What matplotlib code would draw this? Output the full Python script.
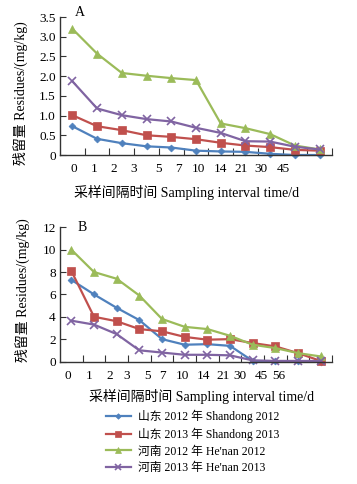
import matplotlib
matplotlib.use("Agg")
import matplotlib.pyplot as plt
import numpy as np

plt.rcParams['font.family'] = ['Liberation Serif', 'Noto Sans CJK SC']
plt.rcParams['axes.unicode_minus'] = False

# ---- data ----
labels_a = ["0", "1", "2", "3", "5", "7", "10", "14", "21", "30", "45"]
labels_b = ["0", "1", "2", "3", "5", "7", "10", "14", "21", "30", "45", "56"]

series_names = ["山东 2012 年 Shandong 2012", "山东 2013 年 Shandong 2013",
                "河南 2012 年 He'nan 2012", "河南 2013 年 He'nan 2013"]

a_sd2012 = [0.73, 0.41, 0.30, 0.22, 0.19, 0.11, 0.09, 0.08, 0.03, 0.0, 0.0]
a_sd2013 = [1.01, 0.73, 0.63, 0.50, 0.46, 0.40, 0.31, 0.24, 0.20, 0.13, 0.11]
a_hn2012 = [3.20, 2.57, 2.08, 2.01, 1.95, 1.90, 0.80, 0.68, 0.53, 0.24, 0.14]
a_hn2013 = [1.87, 1.18, 1.01, 0.91, 0.85, 0.69, 0.56, 0.35, 0.34, 0.21, 0.14]

b_sd2012 = [7.3, 6.0, 4.8, 3.7, 2.0, 1.5, 1.55, 1.4, 0.05, 0.03, 0.03, 0.0]
b_sd2013 = [8.1, 4.0, 3.6, 2.9, 2.7, 2.2, 1.95, 2.0, 1.65, 1.35, 0.75, 0.05]
b_hn2012 = [10.0, 8.0, 7.4, 5.9, 3.8, 3.1, 2.9, 2.3, 1.5, 1.2, 0.75, 0.45]
b_hn2013 = [3.65, 3.3, 2.45, 1.0, 0.8, 0.6, 0.6, 0.55, 0.1, 0.05, 0.05, 0.05]

colors = ["#4F81BD", "#C0504D", "#9BBB59", "#8064A2"]
markers = ["D", "s", "^", "x"]
msizes = [3.5, 6, 5.5, 5.5]

# label offsets (as drawn in the original, slightly misaligned with points)
tickpos_a = [0.06, 0.87, 1.68, 2.49, 3.47, 4.28, 5.09, 5.97, 6.83, 7.64, 8.53]
tickpos_b = [-0.15, 0.78, 1.71, 2.46, 3.34, 4.0, 4.92, 5.81, 6.69, 7.44, 8.37, 9.16]

W, H = 357, 484
fig = plt.figure(figsize=(W / 100, H / 100), dpi=100)
fig.patch.set_facecolor("white")

ylab = "残留量 Residues/(mg/kg)"
xlab = "采样间隔时间 Sampling interval time/d"


def style_axes(ax, n, tickpos, labels):
    for s in ["top", "right"]:
        ax.spines[s].set_visible(False)
    for s in ["left", "bottom"]:
        ax.spines[s].set_color("#333333")
        ax.spines[s].set_linewidth(1.0)
    ax.set_xlim(-0.5, n - 0.5)
    ax.set_xticks(tickpos)
    ax.set_xticklabels(labels, fontsize=9.5)
    ax.tick_params(axis="x", which="major", length=0, pad=6)
    ax.set_xticks(np.arange(n) + 0.5, minor=True)
    ax.tick_params(axis="x", which="minor", direction="in", length=5, width=0.8, color="#333333")
    ax.tick_params(axis="y", direction="in", length=4, width=0.8, color="#333333", labelsize=9.5, pad=3)


def plot_series(ax, data):
    x = np.arange(len(data[0]))
    for d, c, m, ms in zip(data, colors, markers, msizes):
        ax.plot(x, d, color=c, marker=m, markersize=ms, linewidth=1.6,
                markeredgewidth=1.2 if m == "x" else 0.5, markeredgecolor=c, clip_on=False)


# ---- Chart A ----
axA = fig.add_axes([60 / W, (H - 155) / H, 272 / W, 138 / H])
plot_series(axA, [a_sd2012, a_sd2013, a_hn2012, a_hn2013])
axA.set_ylim(0, 3.5)
axA.set_yticks(np.arange(0, 3.51, 0.5))
axA.set_yticklabels(["0", "0.5", "1.0", "1.5", "2.0", "2.5", "3.0", "3.5"])
style_axes(axA, len(labels_a), tickpos_a, labels_a)
axA.text(0.074, 1.035, "A", transform=axA.transAxes, fontsize=10, ha="center", va="center")

# ---- Chart B ----
axB = fig.add_axes([60 / W, (H - 361.5) / H, 272 / W, 134.2 / H])
plot_series(axB, [b_sd2012, b_sd2013, b_hn2012, b_hn2013])
axB.set_ylim(0, 12)
axB.set_yticks(np.arange(0, 12.1, 2))
style_axes(axB, len(labels_b), tickpos_b, labels_b)
axB.text(0.081, 1.0, "B", transform=axB.transAxes, fontsize=10, ha="center", va="center")

# axis labels
fig.text(20 / W, 1 - 93 / H, ylab, rotation=90, ha="center", va="center", fontsize=10)
fig.text(22 / W, 1 - 290 / H, ylab, rotation=90, ha="center", va="center", fontsize=10)
fig.text(187 / W, 1 - 193 / H, xlab, ha="center", va="center", fontsize=10)
fig.text(202 / W, 1 - 397 / H, xlab, ha="center", va="center", fontsize=10)

# legend
handles = [plt.Line2D([], [], color=c, marker=m, markersize=ms * 0.8, linewidth=1.6,
                      markeredgewidth=1.2 if m == "x" else 0.5, markeredgecolor=c)
           for c, m, ms in zip(colors, markers, msizes)]
leg = fig.legend(handles, series_names, loc="upper left",
                 bbox_to_anchor=(106 / W, 1 - 410 / H), frameon=False,
                 fontsize=8.5, handlelength=2.1, handletextpad=0.6, labelspacing=0.38,
                 borderaxespad=0, borderpad=0)

fig.savefig("out.png", dpi=100, facecolor="white")
